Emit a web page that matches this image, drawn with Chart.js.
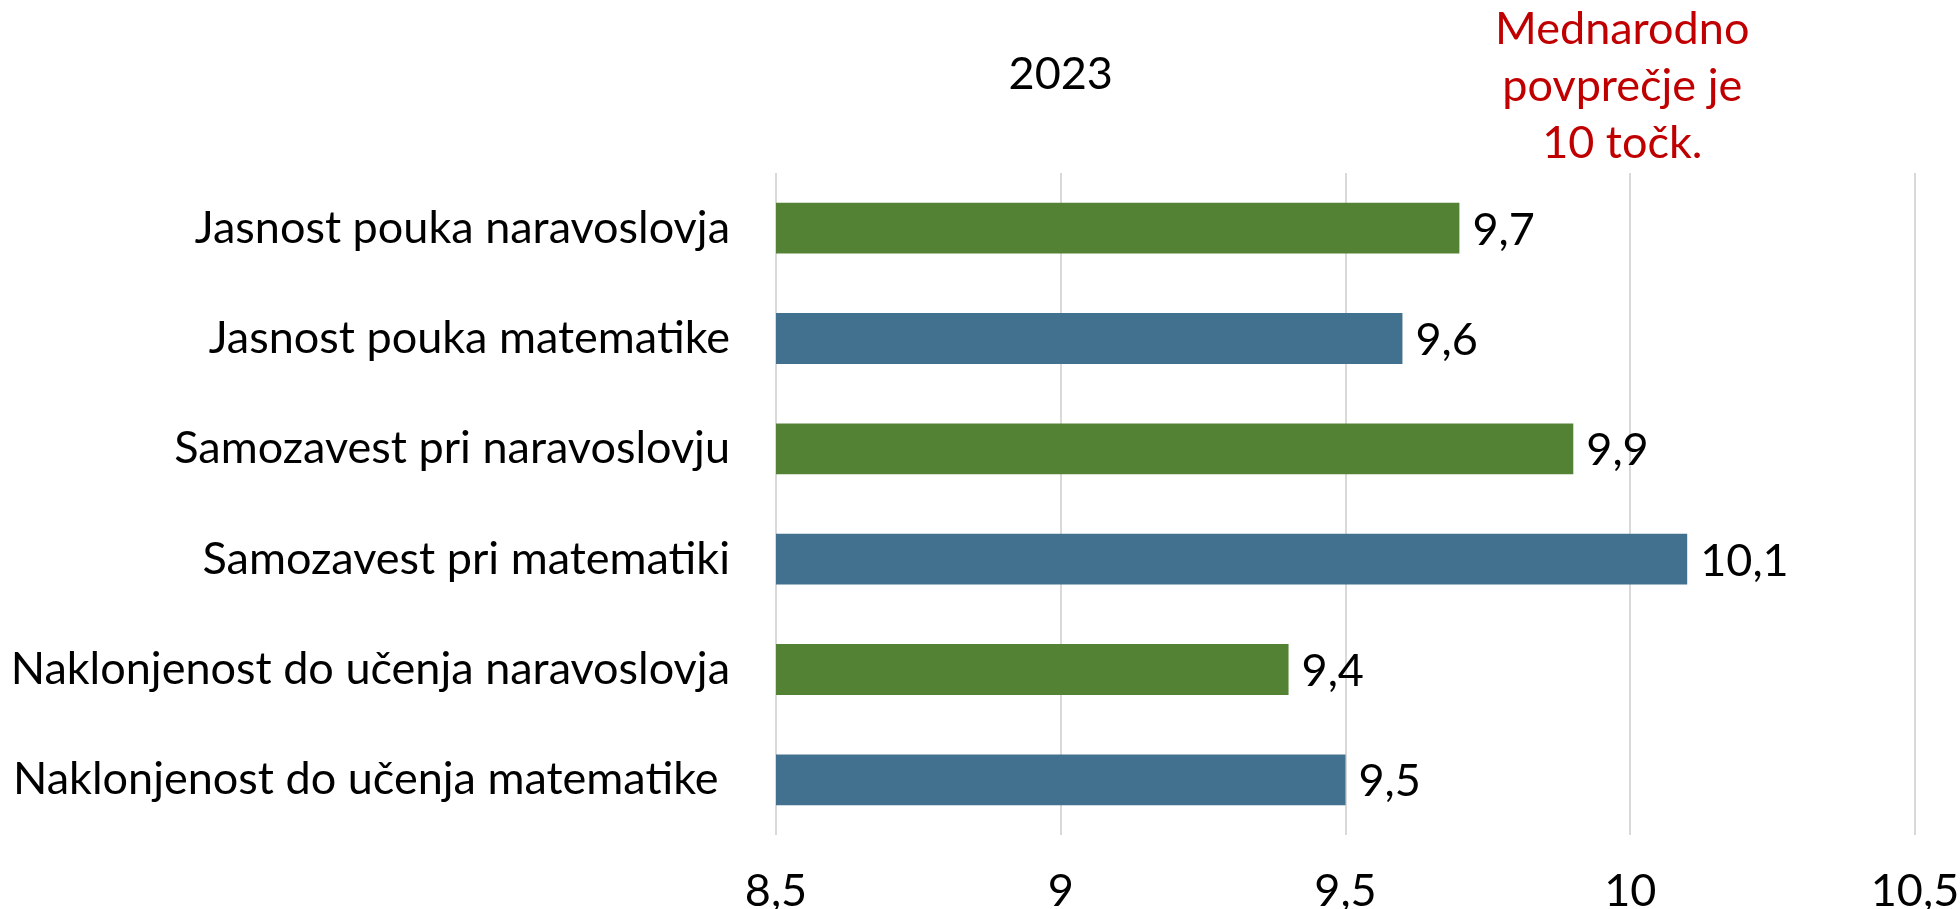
<!DOCTYPE html>
<html>
<head>
<meta charset="utf-8">
<title>2023</title>
<script src="https://cdn.jsdelivr.net/npm/chart.js@4.4.1/dist/chart.umd.min.js"></script>
<style>
  html, body { margin:0; padding:0; background:#fff; }
  #wrap { width:1960px; height:909px; position:relative; }
</style>
</head>
<body>
<div id="wrap"><canvas id="chart" width="1960" height="909"></canvas></div>
<script>
// Data
const categories = [
  'Jasnost pouka naravoslovja',
  'Jasnost pouka matematike',
  'Samozavest pri naravoslovju',
  'Samozavest pri matematiki',
  'Naklonjenost do učenja naravoslovja',
  'Naklonjenost do učenja matematike '
];
const values = [9.7, 9.6, 9.9, 10.1, 9.4, 9.5];
const axisMin = 8.5, axisMax = 10.5, axisStep = 0.5;
const titleText = '2023';
const noteLines = ['Mednarodno', 'povprečje je', '10 točk.'];
const noteAtValue = 10;

const GREEN = '#548235', BLUE = '#41718f', RED = '#c00000';
const FONT = 'Lato, "Open Sans", sans-serif';
const SIZE = 45;

const fmt = v => String(v).replace('.', ',');

// value labels to the right of each bar + title and red note above the plot
const annotate = {
  id: 'annotate',
  afterDatasetsDraw(chart) {
    const ctx = chart.ctx;
    const meta = chart.getDatasetMeta(0);
    ctx.save();
    ctx.font = SIZE + 'px ' + FONT;
    ctx.fillStyle = '#000';
    ctx.textAlign = 'left';
    ctx.textBaseline = 'middle';
    meta.data.forEach((bar, i) => {
      ctx.fillText(fmt(values[i]), bar.x + 13, bar.y + 2);
    });

    const xs = chart.scales.x;
    ctx.textAlign = 'center';
    ctx.fillText(titleText, xs.getPixelForValue(9), 74);

    ctx.fillStyle = RED;
    noteLines.forEach((t, i) => ctx.fillText(t, xs.getPixelForValue(noteAtValue) - 8, 29 + i * 57));
    ctx.restore();
  }
};

new Chart(document.getElementById('chart'), {
  type: 'bar',
  data: {
    labels: categories,
    datasets: [{
      data: values,
      backgroundColor: ctx => categories[ctx.dataIndex].includes('naravoslov') ? GREEN : BLUE,
      categoryPercentage: 1,
      barPercentage: 0.46
    }]
  },
  options: {
    indexAxis: 'y',
    responsive: false,
    animation: false,
    layout: { padding: { top: 173, right: 45, left: 0, bottom: 0 } },
    plugins: { legend: { display: false }, tooltip: { enabled: false }, title: { display: false } },
    scales: {
      x: {
        min: axisMin, max: axisMax,
        ticks: { stepSize: axisStep, color: '#000', font: { family: FONT, size: SIZE }, padding: 29, callback: v => fmt(v) },
        grid: { color: '#d9d9d9', lineWidth: 2, drawTicks: false },
        border: { display: false },
        afterFit: s => { s.height = 74; s.paddingLeft = 0; s.paddingRight = 0; }
      },
      y: {
        ticks: { color: '#000', font: { family: FONT, size: SIZE }, padding: 46 },
        grid: { display: false, drawTicks: false },
        border: { display: false },
        afterFit: s => { s.width = 776; }
      }
    }
  },
  plugins: [annotate]
});
</script>
</body>
</html>
